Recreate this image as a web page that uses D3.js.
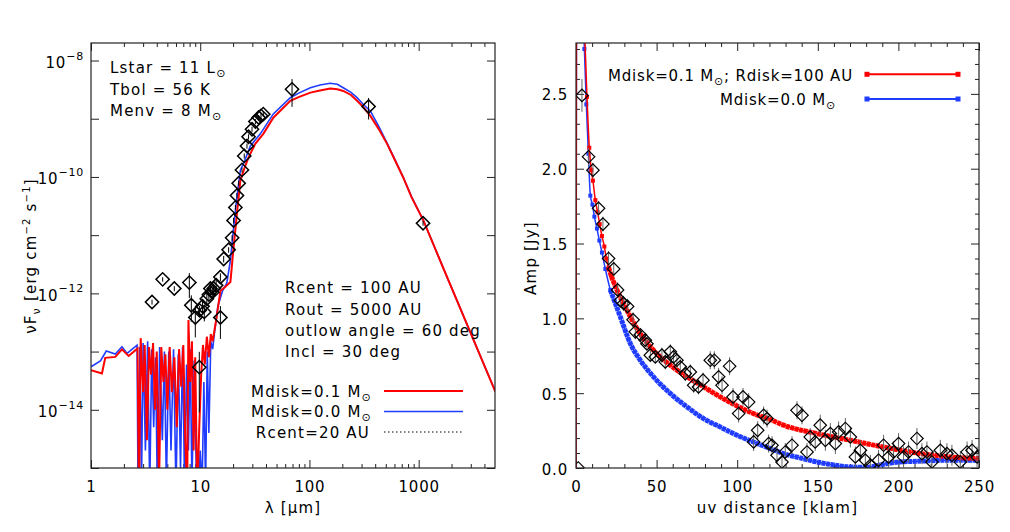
<!DOCTYPE html>
<html>
<head>
<meta charset="utf-8">
<script src="https://cdn.jsdelivr.net/npm/d3@7"></script>
<style>
body { margin: 0; background: #fff; }
text { font-family: "DejaVu Sans", sans-serif; fill: #000; }
</style>
</head>
<body>
<div id="chart"></div>
<script>
var width = 1010;
var height = 532;

/* ---- left panel: SED (wavelength in micron, nuFnu in erg cm-2 s-1) ---- */
var redWave = [1.0, 1.26, 1.35, 1.67, 1.92, 2.21, 2.67,
    2.75, 2.85, 3.0, 3.1, 3.25, 3.4, 3.55, 3.7, 3.85, 4.0, 4.2, 4.4, 4.6, 4.8, 5.0, 5.25, 5.5,
    5.8, 6.1, 6.4, 6.7, 7.0, 7.3, 7.6, 7.8, 8.1, 8.4, 8.7, 9.0, 9.4, 9.8, 10.2, 10.6, 11.0,
    11.5, 12.0, 12.5, 13.0, 13.5, 14.0,
    15.3, 17, 18.9, 20, 21.5, 23.3, 25.5, 27.7, 31.9, 37.8, 46.7, 66.8, 80.6, 102, 125, 155, 180,
    204, 240, 273, 310, 361, 430, 514, 610, 724, 860, 1104, 1683, 5035];
var redFlux = [4.8e-14, 4.2e-14, 7.8e-14, 8.1e-14, 1.09e-13, 8.4e-14, 1.13e-13,
    3e-16, 1.7e-13, 2e-14, 1.3e-13, 3e-15, 1.2e-13, 4e-14, 1.4e-13, 1e-14, 1e-13, 5e-16, 1.2e-13, 3e-14, 9e-14, 1e-14, 1.2e-13, 2e-14,
    8e-14, 5e-15, 1.1e-13, 2.5e-14, 1.3e-13, 3e-15, 4e-16, 3.5e-13, 3e-14, 1.5e-13, 2e-15, 8e-14, 3e-16, 5e-15, 4e-14, 1.3e-13, 6e-14,
    1.8e-13, 8e-14, 2e-13, 1.5e-13, 2.3e-13, 3.5e-13,
    1.1e-12, 1.3e-12, 1.57e-12, 5e-12, 2e-11, 8.6e-11, 1.45e-10, 2.17e-10, 3.7e-10, 5.5e-10, 1.04e-9, 2.03e-9, 2.37e-9, 2.81e-9, 3.06e-9, 3.29e-9, 3.2e-9,
    3.0e-9, 2.56e-9, 2.03e-9, 1.6e-9, 1.12e-9, 6.7e-10, 3.7e-10, 1.9e-10, 9.7e-11, 4.5e-11, 1.8e-11, 2.7e-12, 2.06e-14];

var blueWave = [1.0, 1.22, 1.38, 1.67, 1.92, 2.14, 2.64,
    2.7, 2.8, 2.9, 3.0, 3.15, 3.3, 3.45, 3.6, 3.75, 3.9, 4.05, 4.25, 4.5, 4.7, 4.9, 5.15, 5.4,
    5.7, 6.0, 6.3, 6.6, 6.9, 7.2, 7.5, 7.8, 8.1, 8.4, 8.8, 9.2, 9.6, 10.0, 10.4, 10.8, 11.2,
    11.6, 12.0, 12.5, 13.0, 13.5, 14.0,
    14.5, 16, 17.5, 18.9, 20, 21.5, 23.3, 25.5, 28.8, 35.5, 46.7, 66.8, 80.6, 102, 125, 155, 180,
    204, 240, 273, 310, 361, 430, 514, 610, 724, 860, 1104, 1683, 5035];
var blueFlux = [5.5e-14, 6.9e-14, 1.02e-13, 9.1e-14, 1.21e-13, 9.3e-14, 1.29e-13,
    3e-16, 1.2e-13, 5e-16, 1.4e-13, 2e-15, 1.5e-13, 4e-16, 1.1e-13, 5e-15, 8e-14, 4e-16, 1.2e-13, 3e-15, 1e-13, 5e-16, 1e-13, 2e-15,
    1.1e-13, 4e-16, 9e-14, 1e-15, 1.2e-13, 4e-16, 6e-14, 2e-15, 1.1e-13, 5e-16, 7e-14, 1e-15, 3e-16, 2e-15, 4e-16, 3e-14, 5e-16,
    1e-13, 4e-15, 1.5e-13, 1.1e-13, 2.1e-13, 3.5e-13,
    6e-13, 1.1e-12, 1.5e-12, 3.7e-12, 1.1e-11, 4e-11, 1.29e-10, 1.9e-10, 3.4e-10, 5.5e-10, 1.21e-9, 2.3e-9, 2.78e-9, 3.4e-9, 3.8e-9, 4.07e-9, 3.9e-9,
    3.4e-9, 2.83e-9, 2.3e-9, 1.77e-9, 1.36e-9, 7.5e-10, 3.8e-10, 1.95e-10, 9.8e-11, 4.6e-11, 1.8e-11, 2.7e-12, 2.06e-14];

var obsWave = [3.62, 4.53, 5.79, 7.95, 8.29, 9.02, 9.87, 10.5, 10.9, 9.81, 11.5, 12.0, 12.4, 12.9, 13.3, 14.0,
    15.3, 15.3, 16.4, 18.2, 19.6, 20.2, 21.0, 21.7, 22.5, 24.1, 25.3, 26.8, 27.7, 29.8, 32.0, 34.3, 36.0, 37.8,
    69.3, 348, 1097];
var obsFlux = [7.1e-13, 1.74e-12, 1.21e-12, 1.53e-12, 6.25e-13, 3.85e-13, 5.1e-13, 6e-13, 4.8e-13, 5.4e-14, 8.1e-13, 9.5e-13, 1.21e-12, 1.05e-12, 1.21e-12, 1.38e-12,
    1.91e-12, 3.85e-13, 3.9e-12, 5.6e-12, 9e-12, 1.79e-11, 3.0e-11, 4.8e-11, 7.8e-11, 1.32e-10, 2.3e-10, 3.4e-10, 4.9e-10, 6.6e-10, 8.95e-10, 1.05e-9, 1.12e-9, 1.2e-9,
    3.2e-9, 1.62e-9, 1.6e-11];
var obsErr = [7e-14, 1.5e-13, 1.2e-13, 7e-13, 3e-13, 2.1e-13, 1e-13, 1.5e-13, 1.5e-13, 4.5e-14, 2e-13, 2e-13, 2.5e-13, 2e-13, 2.5e-13, 3e-13,
    3e-13, 2.2e-13, 5e-13, 6e-13, 1e-12, 2e-12, 3e-12, 5e-12, 8e-12, 1.3e-11, 2.3e-11, 3.4e-11, 5e-11, 6.6e-11, 9e-11, 1e-10, 1.1e-10, 1.2e-10,
    1.6e-9, 6.5e-10, 1.5e-12];

var sedLabelExp = [-8, -10, -12, -14];
var sedDecades = [1e-15, 1e-14, 1e-13, 1e-12, 1e-11, 1e-10, 1e-9, 1e-8];
var waveMajor = [1, 10, 100, 1000];

/* ---- right panel: visibility amplitude vs uv distance ---- */
var uvRed = [0, 1.3, 2.7, 4.1, 5.4, 6.8, 8.25, 9.5, 10.5, 12, 13.4, 14.7, 16.1, 17.6, 18.8, 20.2, 21.7,
    25.4, 31.6, 37.8, 48.1, 58.5, 68.9, 79.2, 89.5, 99.9, 110, 120.5, 128.8, 149.5, 170.2, 190.8, 211.5, 232.2, 250];
var ampRed = [0, 9, 4.4, 3.4, 2.9, 2.48, 2.14, 1.99, 1.92, 1.79, 1.71, 1.63, 1.55, 1.48, 1.40, 1.34, 1.29,
    1.19, 1.055, 0.932, 0.787, 0.687, 0.609, 0.542, 0.475, 0.415, 0.364, 0.324, 0.286, 0.23, 0.185, 0.14, 0.10, 0.074, 0.063];
var uvBlue = [0, 1.3, 2.6, 3.9, 5.2, 6.4, 7.7, 8.9, 10.2, 11.4, 13, 14.5, 16.1, 18.2, 21.3,
    27.5, 33.7, 39.9, 48.1, 58.5, 68.9, 79.2, 89.5, 99.9, 110, 120.5, 128.8, 140, 149.5, 160, 170, 180, 190.8, 200, 211.5, 232, 250];
var ampBlue = [0, 9, 4.3, 3.3, 2.8, 2.43, 2.1, 1.82, 1.76, 1.68, 1.60, 1.52, 1.44, 1.33, 1.19,
    1.01, 0.832, 0.72, 0.609, 0.498, 0.408, 0.33, 0.274, 0.219, 0.174, 0.13, 0.096, 0.065, 0.04, 0.02, 0.007, 0.004, 0.025, 0.04, 0.045, 0.052, 0.052];

var visUv = [1.4, 3.7, 7.8, 10.5, 14, 16.7, 20.2, 23.4, 25.8, 27.5, 29.5, 32, 35.4, 36.8, 39.9, 43, 44, 46.1, 49.2,
    53.3, 55.4, 58.5, 60.5, 62.6, 64.7, 67.8, 70.9, 73, 76, 78.8, 83.3, 85.8, 88.5, 90.6, 95.3, 97.4, 100.9,
    103.6, 107.1, 110.2, 112.7, 116.4, 118.5, 119.5, 121.6, 124.7, 127.8, 129.8, 134, 137.1, 140.2, 143.3,
    145.3, 148.4, 151.5, 154.7, 157.8, 160.9, 162.9, 167.1, 170.2, 173.3, 176.4, 179.5, 182.6, 187.7, 190.8,
    193.9, 197, 200.1, 203.2, 206.3, 211.5, 214.6, 217.7, 220.8, 226, 230.1, 233.2, 238.4, 242.6, 245.7, 248.8];
var visAmp = [0.0, 2.49, 2.08, 1.99, 1.735, 1.63, 1.40, 1.33, 1.19, 1.12, 1.10, 1.08, 0.99, 0.91, 0.89, 0.854, 0.83, 0.754, 0.742,
    0.754, 0.709, 0.776, 0.742, 0.72, 0.676, 0.631, 0.642, 0.553, 0.542, 0.587, 0.72, 0.72, 0.609, 0.553, 0.68, 0.475, 0.364,
    0.475, 0.441, 0.174, 0.252, 0.352, 0.33, 0.163, 0.152, 0.085, 0.04, 0.107, 0.152, 0.386, 0.352, 0.107,
    0.207, 0.174, 0.286, 0.185, 0.23, 0.163, 0.241, 0.264, 0.207, 0.074, 0.118, 0.052, 0.018, 0.052, 0.152,
    0.074, 0.107, 0.163, 0.074, 0.107, 0.197, 0.096, 0.107, 0.04, 0.118, 0.096, 0.085, 0.04, 0.107, 0.118, 0.074];
var visErr = [0, 0.11, 0.06, 0.05, 0.05, 0.05, 0.05, 0.05, 0.05, 0.05, 0.05, 0.05, 0.05, 0.05, 0.04, 0.04, 0.04, 0.04, 0.04,
    0.05, 0.05, 0.05, 0.05, 0.05, 0.05, 0.05, 0.05, 0.05, 0.05, 0.05, 0.06, 0.06, 0.06, 0.06, 0.06, 0.06, 0.06,
    0.06, 0.06, 0.06, 0.06, 0.06, 0.06, 0.06, 0.06, 0.06, 0.06, 0.06, 0.06, 0.06, 0.06, 0.06,
    0.06, 0.06, 0.07, 0.07, 0.07, 0.07, 0.07, 0.07, 0.07, 0.07, 0.07, 0.07, 0.07, 0.07, 0.07,
    0.07, 0.07, 0.07, 0.07, 0.07, 0.07, 0.07, 0.07, 0.07, 0.07, 0.07, 0.07, 0.07, 0.07, 0.07, 0.07];

var uvMajor = [0, 50, 100, 150, 200, 250];
var ampMajor = [0, 0.5, 1.0, 1.5, 2.0, 2.5];

var RED = "#ff0000";
var BLUE = "#1f3cff";
var AXC = "#222";

var svg = d3.select("#chart")
    .append("svg")
    .attr("width", width)
    .attr("height", height);

var L = {x0: 91, x1: 495, y0: 43, y1: 468};
var R = {x0: 576, x1: 979, y0: 43, y1: 468};

var xSed = d3.scaleLog().domain([1, 5000]).range([L.x0, L.x1]);
var ySed = d3.scaleLog().domain([1e-15, 2e-8]).range([L.y1, L.y0]);
var xUv = d3.scaleLinear().domain([0, 250]).range([R.x0, R.x1]);
var yAmp = d3.scaleLinear().domain([0, 2.84]).range([R.y1, R.y0]);

var defs = svg.append("defs");
defs.append("clipPath").attr("id", "clipL").append("rect")
    .attr("x", L.x0).attr("y", L.y0).attr("width", L.x1 - L.x0).attr("height", L.y1 - L.y0);
defs.append("clipPath").attr("id", "clipR").append("rect")
    .attr("x", R.x0).attr("y", R.y0).attr("width", R.x1 - R.x0).attr("height", R.y1 - R.y0);

// inward ticks on one side of a panel
function tickSide(axisFn, scale, vals, size, at, fmt, pad) {
    var ax = axisFn(scale).tickValues(vals).tickSize(-size).tickSizeOuter(0)
        .tickPadding(pad || 6).tickFormat(fmt || "");
    var g = svg.append("g").attr("transform", at).call(ax)
        .attr("font-family", "DejaVu Sans").attr("font-size", 15);
    g.select(".domain").remove();
    g.selectAll("line").attr("stroke", AXC);
    if (!fmt) g.selectAll("text").remove();
    g.selectAll("text").attr("fill", "#000").style("letter-spacing", "0.8px");
    return g;
}

/* ================= left panel ================= */
var waveMinor = [];
waveMajor.forEach(function (d) {
    for (var k = 2; k <= 9; k++) {
        if (d * k < 5000) waveMinor.push(d * k);
    }
});

tickSide(d3.axisBottom, xSed, waveMinor, 4, "translate(0," + L.y1 + ")");
tickSide(d3.axisTop, xSed, waveMinor, 4, "translate(0," + L.y0 + ")");
tickSide(d3.axisBottom, xSed, waveMajor, 8, "translate(0," + L.y1 + ")", function (d) { return String(d); }, 13);
tickSide(d3.axisTop, xSed, waveMajor, 8, "translate(0," + L.y0 + ")");
tickSide(d3.axisRight, ySed, sedDecades, 8, "translate(" + L.x1 + ",0)");
tickSide(d3.axisLeft, ySed, sedDecades, 8, "translate(" + L.x0 + ",0)");

var yl = tickSide(d3.axisLeft, ySed, sedLabelExp.map(function (e) { return Math.pow(10, e); }), 0,
    "translate(" + L.x0 + ",0)", function () { return ""; }, 7);
yl.selectAll("text").each(function (d) {
    var t = d3.select(this).attr("dy", "0.45em");
    var e = Math.round(Math.log10(d));
    t.append("tspan").text("10");
    t.append("tspan").attr("font-size", 11).attr("dy", "-0.75em").text("\u2212" + Math.abs(e));
});

// model curves
var sedLine = d3.line()
    .x(function (d) { return xSed(d[0]); })
    .y(function (d) { return ySed(d[1]); });

var plotL = svg.append("g").attr("clip-path", "url(#clipL)");

plotL.append("path")
    .attr("d", sedLine(d3.zip(blueWave, blueFlux)))
    .attr("fill", "none").attr("stroke", BLUE).attr("stroke-width", 1.6);
plotL.append("path")
    .attr("d", sedLine(d3.zip(redWave, redFlux)))
    .attr("fill", "none").attr("stroke", RED).attr("stroke-width", 2);

// observations
var obs = d3.zip(obsWave, obsFlux, obsErr);
plotL.selectAll(".eb").data(obs).enter().append("line")
    .attr("x1", function (d) { return xSed(d[0]); })
    .attr("x2", function (d) { return xSed(d[0]); })
    .attr("y1", function (d) { return ySed(d[1] + d[2]); })
    .attr("y2", function (d) { return ySed(Math.max(d[1] - d[2], 1e-16)); })
    .attr("stroke", "#000").attr("stroke-width", 1);

var diamond = d3.symbol().type(d3.symbolSquare).size(88)();
plotL.selectAll(".obs").data(obs).enter().append("path")
    .attr("d", diamond)
    .attr("transform", function (d) { return "translate(" + xSed(d[0]) + "," + ySed(d[1]) + ") rotate(45)"; })
    .attr("fill", "none").attr("stroke", "#000").attr("stroke-width", 1.5);

svg.append("rect")
    .attr("x", L.x0).attr("y", L.y0).attr("width", L.x1 - L.x0).attr("height", L.y1 - L.y0)
    .attr("fill", "none").attr("stroke", AXC).attr("stroke-width", 1.2);

// text helper: plain strings, {lo: ...} subscripts and {hi: ...} superscripts
function label(g, x, y, parts, anchor) {
    var t = g.append("text").attr("x", x).attr("y", y)
        .attr("font-size", 15).style("letter-spacing", "1.2px")
        .attr("text-anchor", anchor || "start");
    var shift = 0;
    parts.forEach(function (p) {
        var s = t.append("tspan");
        if (typeof p === "string") {
            s.attr("dy", -shift).text(p);
            shift = 0;
        } else if (p.lo !== undefined) {
            s.attr("font-size", 11).attr("dy", 4 - shift).text(p.lo);
            shift = 4;
        } else {
            s.attr("font-size", 10).attr("dy", -6 - shift).text(p.hi);
            shift = -6;
        }
    });
    return t;
}

label(svg, 110, 73, ["Lstar = 11 L", {lo: "\u2299"}]);
label(svg, 110, 95, ["Tbol = 56 K"]);
label(svg, 110, 116, ["Menv = 8 M", {lo: "\u2299"}]);

label(svg, 285, 293, ["Rcent = 100 AU"]);
label(svg, 285, 315, ["Rout = 5000 AU"]);
label(svg, 285, 336, ["outlow angle = 60 deg"]);
label(svg, 285, 357, ["Incl = 30 deg"]);

// left legend
label(svg, 372, 397, ["Mdisk=0.1 M", {lo: "\u2299"}], "end");
label(svg, 372, 417, ["Mdisk=0.0 M", {lo: "\u2299"}], "end");
label(svg, 370, 438, ["Rcent=20 AU"], "end");
svg.append("line").attr("x1", 384).attr("x2", 463).attr("y1", 391).attr("y2", 391)
    .attr("stroke", RED).attr("stroke-width", 2);
svg.append("line").attr("x1", 384).attr("x2", 463).attr("y1", 411.5).attr("y2", 411.5)
    .attr("stroke", BLUE).attr("stroke-width", 1.6);
svg.append("line").attr("x1", 384).attr("x2", 463).attr("y1", 432).attr("y2", 432)
    .attr("stroke", "#000").attr("stroke-width", 1.2).attr("stroke-dasharray", "1.5,2.5");

// axis titles
label(svg, (L.x0 + L.x1) / 2, 513, ["\u03bb [\u03bcm]"], "middle");
var yt = svg.append("g").attr("transform", "translate(36,256) rotate(-90)");
label(yt, 0, 0, ["\u03bdF", {lo: "\u03bd"}, " [erg cm", {hi: "\u22122"}, " s", {hi: "\u22121"}, "]"], "middle");

/* ================= right panel ================= */
var uvMinor = d3.range(0, 251, 10).filter(function (d) { return d % 50 !== 0; });
var ampMinor = d3.range(1, 29).map(function (d) { return d / 10; })
    .filter(function (d) { return Math.round(d * 10) % 5 !== 0; });

tickSide(d3.axisBottom, xUv, uvMinor, 4, "translate(0," + R.y1 + ")");
tickSide(d3.axisTop, xUv, uvMinor, 4, "translate(0," + R.y0 + ")");
tickSide(d3.axisBottom, xUv, uvMajor, 8, "translate(0," + R.y1 + ")", d3.format("d"), 13);
tickSide(d3.axisTop, xUv, uvMajor, 8, "translate(0," + R.y0 + ")");
tickSide(d3.axisLeft, yAmp, ampMinor, 4, "translate(" + R.x0 + ",0)");
tickSide(d3.axisRight, yAmp, ampMinor, 4, "translate(" + R.x1 + ",0)");
tickSide(d3.axisLeft, yAmp, ampMajor, 8, "translate(" + R.x0 + ",0)", d3.format(".1f"), 8)
    .selectAll("text").attr("dy", "0.4em");
tickSide(d3.axisRight, yAmp, ampMajor, 8, "translate(" + R.x1 + ",0)");

var plotR = svg.append("g").attr("clip-path", "url(#clipR)");

var visLine = d3.line()
    .x(function (d) { return xUv(d[0]); })
    .y(function (d) { return yAmp(d[1]); })
    .curve(d3.curveMonotoneX);

function model(uv, amp, color) {
    var pts = d3.zip(uv, amp);
    plotR.append("path").attr("d", visLine(pts))
        .attr("fill", "none").attr("stroke", color).attr("stroke-width", 1.5);
    // dense square markers along the sampled model -> dashed thick band
    plotR.append("path").attr("d", visLine(pts.filter(function (d) { return d[0] >= 20; })))
        .attr("fill", "none").attr("stroke", color).attr("stroke-width", 5)
        .attr("stroke-dasharray", "4,0.6");
    plotR.selectAll(null).data(pts.filter(function (d) { return d[0] > 5 && d[0] < 22; }))
        .enter().append("rect")
        .attr("x", function (d) { return xUv(d[0]) - 2; })
        .attr("y", function (d) { return yAmp(d[1]) - 2; })
        .attr("width", 4).attr("height", 4).attr("fill", color);
}
model(uvBlue, ampBlue, BLUE);
model(uvRed, ampRed, RED);

var vis = d3.zip(visUv, visAmp, visErr);
plotR.selectAll(".veb").data(vis).enter().append("line")
    .attr("x1", function (d) { return xUv(d[0]); })
    .attr("x2", function (d) { return xUv(d[0]); })
    .attr("y1", function (d) { return yAmp(d[1] + d[2]); })
    .attr("y2", function (d) { return yAmp(d[1] - d[2]); })
    .attr("stroke", "#666").attr("stroke-width", 1);
var diamond2 = d3.symbol().type(d3.symbolSquare).size(78)();
plotR.selectAll(".vis").data(vis).enter().append("path")
    .attr("d", diamond2)
    .attr("transform", function (d) { return "translate(" + xUv(d[0]) + "," + yAmp(d[1]) + ") rotate(45)"; })
    .attr("fill", "none").attr("stroke", "#000").attr("stroke-width", 1.2);

svg.append("rect")
    .attr("x", R.x0).attr("y", R.y0).attr("width", R.x1 - R.x0).attr("height", R.y1 - R.y0)
    .attr("fill", "none").attr("stroke", AXC).attr("stroke-width", 1.2);

// right legend
label(svg, 608, 81, ["Mdisk=0.1 M", {lo: "\u2299"}, "; Rdisk=100 AU"]).style("letter-spacing", "0.8px");
label(svg, 836, 105, ["Mdisk=0.0 M", {lo: "\u2299"}], "end").style("letter-spacing", "0.8px");
[[74.3, RED], [99, BLUE]].forEach(function (r) {
    svg.append("line").attr("x1", 867).attr("x2", 958).attr("y1", r[0]).attr("y2", r[0])
        .attr("stroke", r[1]).attr("stroke-width", 2);
    [867, 958].forEach(function (x) {
        svg.append("rect").attr("x", x - 2.5).attr("y", r[0] - 2.5)
            .attr("width", 5).attr("height", 5).attr("fill", r[1]);
    });
});

label(svg, (R.x0 + R.x1) / 2, 513, ["uv distance [klam]"], "middle");
var yt2 = svg.append("g").attr("transform", "translate(536,258) rotate(-90)");
label(yt2, 0, 0, ["Amp [Jy]"], "middle");
</script>
</body>
</html>
